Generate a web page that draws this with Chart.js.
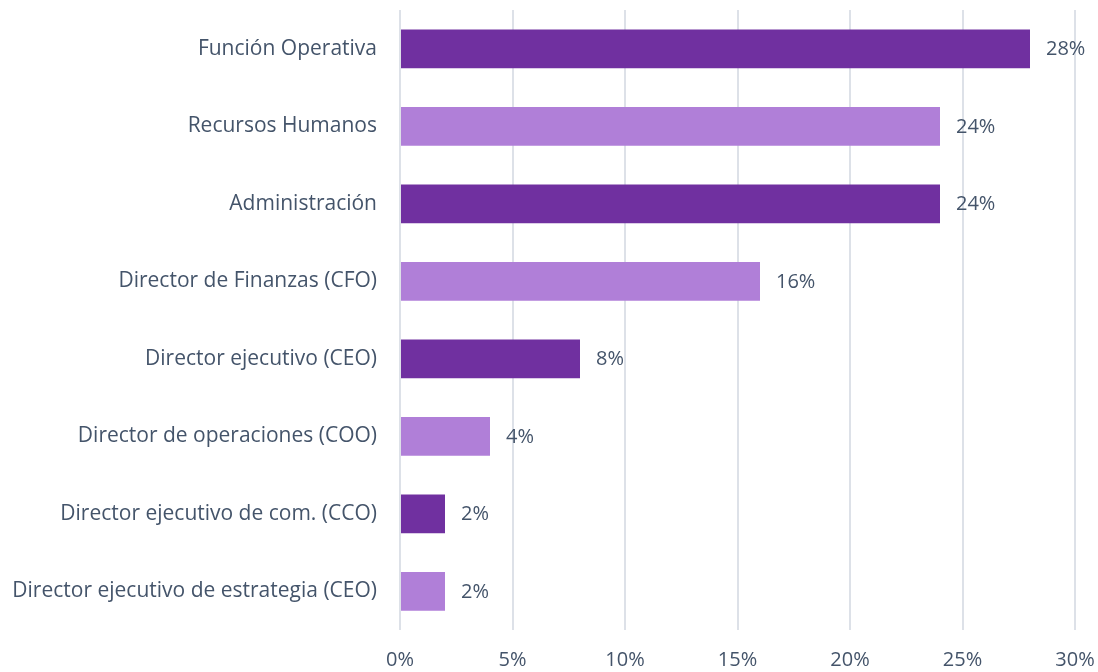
<!DOCTYPE html>
<html>
<head>
<meta charset="utf-8">
<script src="https://cdn.jsdelivr.net/npm/chart.js@4/dist/chart.umd.min.js"></script>
<style>
  html, body { margin: 0; padding: 0; background: #fff; }
  #wrap { width: 1098px; height: 672px; }
</style>
</head>
<body>
<div id="wrap"><canvas id="chart"></canvas></div>
<script>
const categories = [
  "Función Operativa",
  "Recursos Humanos",
  "Administración",
  "Director de Finanzas (CFO)",
  "Director ejecutivo (CEO)",
  "Director de operaciones (COO)",
  "Director ejecutivo de com. (CCO)",
  "Director ejecutivo de estrategia (CEO)"
];
const values = [28, 24, 24, 16, 8, 4, 2, 2];
const xTicks = [0, 5, 10, 15, 20, 25, 30];

const DARK = "#7030A0";
const LIGHT = "#B07FD8";
const TEXT = "#44546A";
const FONT = "'Open Sans', sans-serif";

// etiquetas de valor a la derecha de cada barra
const valueLabels = {
  id: "valueLabels",
  afterDatasetsDraw(chart) {
    const ctx = chart.ctx;
    const meta = chart.getDatasetMeta(0);
    ctx.save();
    ctx.fillStyle = TEXT;
    ctx.font = "20px " + FONT;
    ctx.textAlign = "left";
    ctx.textBaseline = "middle";
    meta.data.forEach((bar, i) => {
      ctx.fillText(values[i] + "%", bar.x + 16, bar.y + 1);
    });
    ctx.restore();
  }
};

new Chart(document.getElementById("chart"), {
  type: "bar",
  data: {
    labels: categories,
    datasets: [{
      data: values,
      backgroundColor: values.map((v, i) => i % 2 === 0 ? DARK : LIGHT),
      barPercentage: 0.5,
      categoryPercentage: 1.0
    }]
  },
  options: {
    indexAxis: "y",
    responsive: true,
    maintainAspectRatio: false,
    animation: false,
    layout: { padding: { top: 10, right: 23, left: 0, bottom: 0 } },
    plugins: {
      legend: { display: false },
      tooltip: { enabled: false }
    },
    scales: {
      x: {
        min: 0,
        max: 30,
        afterBuildTicks: (axis) => { axis.ticks = xTicks.map(v => ({ value: v })); },
        afterFit: (axis) => { axis.height = 42; axis.paddingLeft = 0; axis.paddingRight = 0; },
        grid: { color: "#DDE1E8", lineWidth: 2, drawTicks: false },
        border: { display: false },
        ticks: {
          color: TEXT,
          font: { family: FONT, size: 20 },
          padding: 18,
          callback: (v) => v + "%"
        }
      },
      y: {
        afterFit: (axis) => { axis.width = 400; axis.paddingTop = 0; axis.paddingBottom = 0; },
        grid: { display: false, drawTicks: false },
        border: { display: false },
        ticks: {
          color: TEXT,
          font: { family: FONT, size: 21 },
          padding: 23
        }
      }
    }
  },
  plugins: [valueLabels]
});
</script>
</body>
</html>
